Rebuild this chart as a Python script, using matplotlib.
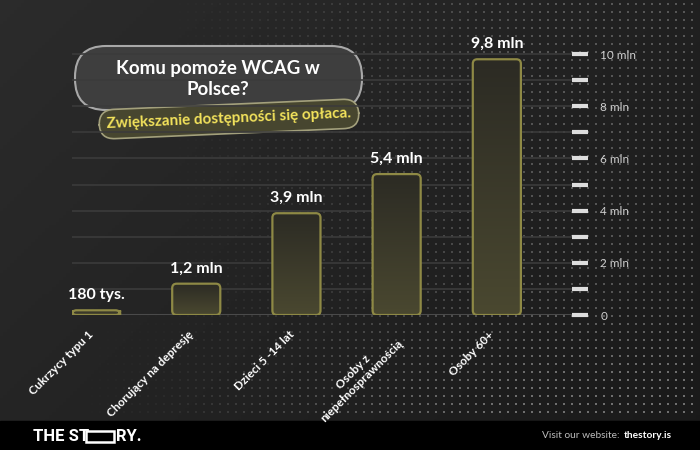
import numpy as np
import matplotlib.pyplot as plt
from matplotlib.patches import FancyBboxPatch, Rectangle
from matplotlib.colors import LinearSegmentedColormap
from matplotlib.transforms import ScaledTranslation

plt.rcParams['font.family'] = ['Lato', 'DejaVu Sans']

categories = ['Cukrzycy typu 1', 'Chorujący na depresję', 'Dzieci 5 -14 lat',
              'Osoby z\nniepełnosprawnością', 'Osoby 60+']
values = [0.18, 1.2, 3.9, 5.4, 9.8]
value_labels = ['180 tys.', '1,2 mln', '3,9 mln', '5,4 mln', '9,8 mln']
y_ticks = list(range(11))
y_tick_labels = ['0', '', '2 mln', '', '4 mln', '', '6 mln', '', '8 mln', '', '10 mln']

title = 'Komu pomoże WCAG w\nPolsce?'
subtitle = 'Zwiększanie dostępności się opłaca.'

W, H = 700, 450
fig = plt.figure(figsize=(7, 4.5), dpi=100)

# background layer in pixel coords (y down)
bg = fig.add_axes([0, 0, 1, 1], zorder=-2)
bg.set_xlim(0, W)
bg.set_ylim(H, 0)
bg.axis('off')
gx, gy = np.meshgrid(np.linspace(0, 1, 200), np.linspace(0, 1, 130))
shade = 0.17 - 0.07 * (0.6 * gx + 0.4 * gy)
bg.imshow(np.dstack([shade, shade, shade]), extent=[0, W, H, 0], aspect='auto', zorder=0)

# halftone dots
dx, dy = np.meshgrid(np.arange(4, W, 8), np.arange(4, 420, 8))
dx, dy = dx.ravel(), dy.ravel()
a = np.clip((dx - 170) / 380, 0, 1) * 0.5 + np.clip((dy - 300) / 90, 0, 1) * np.clip((dx - 80) / 300, 0, 1) * 0.3
a = np.clip(a, 0, 0.75)
cols = np.zeros((len(dx), 4))
cols[:, :3] = 0.55
cols[:, 3] = a
bg.scatter(dx, dy, s=1.6, marker='s', c=cols, linewidths=0, zorder=1)

# footer
bg.add_patch(Rectangle((0, 421), W, 29, color='black', zorder=2))
bg.text(33, 436.5, 'THE ST', color='white', fontsize=12, fontweight='bold',
        va='center', ha='left', family='Roboto', zorder=3)
bg.add_patch(Rectangle((86, 431), 28, 11, fill=False, ec='white', lw=1.8, zorder=3))
bg.text(116, 436.5, 'RY.', color='white', fontsize=12, fontweight='bold',
        va='center', ha='left', family='Roboto', zorder=3)
bg.text(620, 436, 'Visit our website:', color='#bdbdbd', fontsize=7.3,
        va='center', ha='right', zorder=3)
bg.text(624, 436, 'thestory.is', color='white', fontsize=7.3, fontweight='bold',
        va='center', ha='left', zorder=3)

# main chart
ax = fig.add_axes([72 / W, (H - 315) / H, (580 - 72) / W, 274 / H], facecolor='none')
x = np.arange(len(categories))
bars = ax.bar(x, values, width=0.48, color='none', edgecolor='none')

cmap = LinearSegmentedColormap.from_list('g', ['#4a4830', '#2c2b24'])
grad = np.linspace(0, 1, 100)[:, None]
for rect in bars:
    bx, by, bw, bh = rect.get_x(), rect.get_y(), rect.get_width(), rect.get_height()
    patch = FancyBboxPatch((bx, by), bw, bh, boxstyle='round,pad=0,rounding_size=0.045',
                           mutation_aspect=3.84, fc='#3d3b2b', ec='none', zorder=3)
    ax.add_patch(patch)
    img = ax.imshow(grad, extent=[bx, bx + bw, by, by + bh], cmap=cmap,
                    aspect='auto', zorder=3.5, origin='lower')
    img.set_clip_path(patch)
    edge = FancyBboxPatch((bx, by), bw, bh, boxstyle='round,pad=0,rounding_size=0.045',
                          mutation_aspect=3.84, fc='none', ec='#8e8945', lw=1.6, zorder=4)
    ax.add_patch(edge)
ax.set_xlim(-0.24, 4.83)
ax.set_ylim(0, 10.5)

for xi, v, lab in zip(x, values, value_labels):
    ax.annotate(lab, (xi, v), xytext=(0, 6), textcoords='offset points',
                ha='center', va='bottom', color='white', fontsize=11.5, fontweight='bold',
                annotation_clip=False)

for yv in y_ticks[1:]:
    ax.axhline(yv, color='#3b3b3b', lw=1.2, zorder=1)
ax.axhline(0, color='#4a4a4a', lw=1.5, zorder=1)

for s in ax.spines.values():
    s.set_visible(False)
ax.yaxis.tick_right()
ax.set_yticks(y_ticks)
ax.set_yticklabels(y_tick_labels)
ax.tick_params(axis='y', direction='inout', length=11, width=3, color='#dddddd',
               labelcolor='#cfcfcf', labelsize=8.5, pad=9)
ax.set_xticks(x)
ax.set_xticklabels(categories, rotation=45, ha='right', rotation_mode='anchor',
                   color='white', fontsize=8.5, fontweight='bold', multialignment='center')
ax.tick_params(axis='x', length=0, pad=10)
shift = ScaledTranslation(-6 / 72, 0, fig.dpi_scale_trans)
for lab in ax.get_xticklabels():
    lab.set_transform(lab.get_transform() + shift)

# title pill
bg.add_patch(FancyBboxPatch((75, 46), 287, 64, boxstyle='round,pad=0,rounding_size=31',
                            fc='#3e3e3e', ec='#a8a8a8', lw=1.5, zorder=5))
bg.text(218, 79, title, ha='center', va='center', color='white', fontsize=13.5,
        fontweight='bold', linespacing=1.25, zorder=6)
bg.text(229, 119, subtitle, ha='center', va='center', color='#f3e35c', fontsize=11,
        fontweight='bold', rotation=2.5, rotation_mode='anchor', zorder=7,
        bbox=dict(boxstyle='round,pad=0.5,rounding_size=1.0', fc='#47462f', ec='#a3a07c', lw=1.2))

fig.savefig('out.png', dpi=100, facecolor='#1c1c1c')
